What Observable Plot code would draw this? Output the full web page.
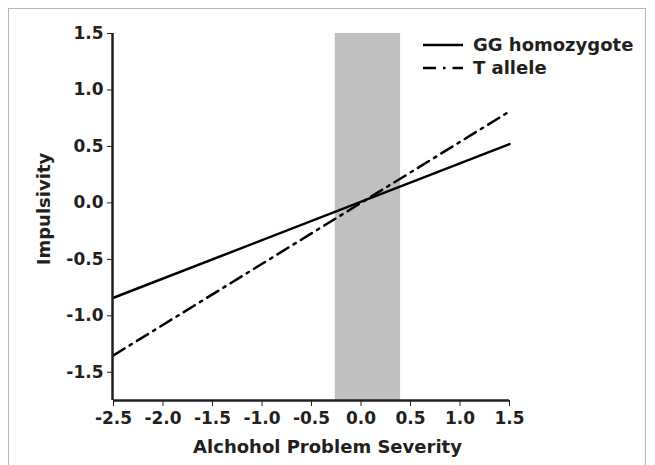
<!DOCTYPE html>
<html>
<head>
<meta charset="utf-8">
<script src="https://cdn.jsdelivr.net/npm/d3@7"></script>
<script src="https://cdn.jsdelivr.net/npm/@observablehq/plot@0.6"></script>
<style>
  html, body { margin: 0; padding: 0; background: #fff; }
  #wrap { position: relative; width: 655px; height: 465px; overflow: hidden; }
  #frame { position: absolute; left: 8px; top: 8px; width: 638px; height: 480px; border: 1.5px solid #b5b5b5; box-sizing: border-box; }
  #chart { position: absolute; left: 0; top: 0; }
  #legend { position: absolute; left: 0; top: 0; }
</style>
</head>
<body>
<div id="wrap">
  <div id="frame"></div>
  <div id="chart"></div>
  <svg id="legend" width="655" height="100"></svg>
</div>
<script>
// ---- data ----
const xEnds = [-2.5, 1.5];
const ggValues = [-0.84, 0.52];
const tValues = [-1.35, 0.81];
const bandRange = [-0.26, 0.40];
const xTicks = [-2.5, -2.0, -1.5, -1.0, -0.5, 0.0, 0.5, 1.0, 1.5];
const yTicks = [-1.5, -1.0, -0.5, 0.0, 0.5, 1.0, 1.5];
const seriesNames = ["GG homozygote", "T allele"];
const xTitle = "Alchohol Problem Severity";
const yTitle = "Impulsivity";

const gg = xEnds.map((x, i) => ({x, y: ggValues[i]}));
const ta = xEnds.map((x, i) => ({x, y: tValues[i]}));
const fmt = d => d.toFixed(1);
const ink = "#231f20";
const font = "'DejaVu Sans', 'Liberation Sans', Arial, sans-serif";
const dashDot = "13,6,2.5,6";

const plot = Plot.plot({
  width: 655,
  height: 465,
  marginLeft: 113,
  marginRight: 146,
  marginTop: 33,
  marginBottom: 65,
  style: {fontFamily: font, fontSize: "17px", fontWeight: "bold", color: ink, background: "transparent"},
  x: {domain: [-2.5, 1.5]},
  y: {domain: [-1.75, 1.5]},
  marks: [
    Plot.rectX([{x1: bandRange[0], x2: bandRange[1]}], {x1: "x1", x2: "x2", y1: -1.75, y2: 1.5, fill: "#c0c0c0"}),
    Plot.line(gg, {x: "x", y: "y", stroke: "#000", strokeWidth: 2.5}),
    Plot.line(ta, {x: "x", y: "y", stroke: "#000", strokeWidth: 2.5, strokeDasharray: dashDot}),
    Plot.axisX({ticks: xTicks, tickFormat: fmt, tickSize: 6, tickWidth: 2, tickPadding: 5, stroke: ink, fontSize: 17, label: null}),
    Plot.axisY({ticks: yTicks, tickFormat: fmt, tickSize: 6, tickWidth: 2, tickPadding: 4, stroke: ink, fontSize: 17, label: null}),
    Plot.ruleY([-1.75], {stroke: ink, strokeWidth: 2.5}),
    Plot.ruleX([-2.5], {stroke: ink, strokeWidth: 2.5, dx: -1}),
    Plot.text([xTitle], {frameAnchor: "bottom", lineAnchor: "middle", textAnchor: "middle", dy: 47, dx: 16, fontSize: 18, fill: ink, text: d => d}),
    Plot.text([yTitle], {frameAnchor: "left", lineAnchor: "middle", textAnchor: "middle", dx: -69, dy: -8, rotate: -90, fontSize: 18, fill: ink, text: d => d})
  ]
});
document.getElementById("chart").appendChild(plot);

// legend
const lg = d3.select("#legend");
const rows = [
  {name: seriesNames[0], dash: null, y: 45},
  {name: seriesNames[1], dash: "13,7,2.5,7", y: 68}
];
rows.forEach(r => {
  lg.append("line").attr("x1", 423).attr("x2", 463).attr("y1", r.y).attr("y2", r.y)
    .attr("stroke", "#000").attr("stroke-width", 2.5).attr("stroke-dasharray", r.dash);
  lg.append("text").attr("x", 473).attr("y", r.y).attr("dy", "0.36em")
    .attr("font-family", font).attr("font-weight", "bold")
    .attr("font-size", "18px").attr("fill", ink).text(r.name);
});
</script>
</body>
</html>
